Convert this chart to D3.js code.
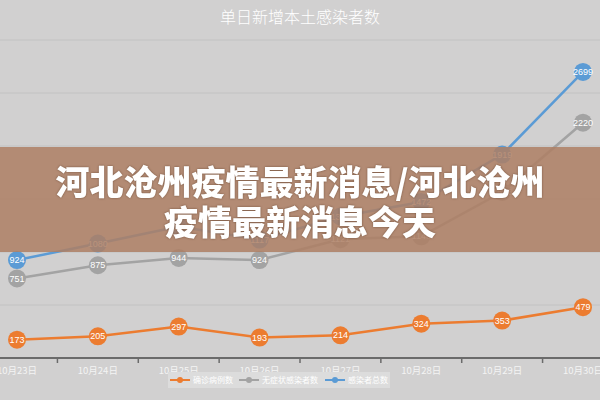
<!DOCTYPE html>
<html>
<head>
<meta charset="utf-8">
<script src="https://cdn.jsdelivr.net/npm/d3@7"></script>
<style>
  html, body { margin: 0; padding: 0; background: #d1d0d0; }
  svg { display: block; }
</style>
</head>
<body>
<div id="chart"></div>
<script>
// chart values
var dates = ["10月23日", "10月24日", "10月25日", "10月26日", "10月27日", "10月28日", "10月29日", "10月30日"];
var confirmed = [173, 205, 297, 193, 214, 324, 353, 479];
var asymptomatic = [751, 875, 944, 924, 1121, 1148, 1566, 2220];
var total = [924, 1080, 1241, 1117, 1335, 1472, 1919, 2699];
var seriesNames = ["确诊病例数", "无症状感染者数", "感染者总数"];
var seriesColors = ["#ec7c30", "#a3a3a3", "#5b9bd5"];
var yTicks = [0, 500, 1000, 1500, 2000, 2500, 3000];

function init() {
    var w = 600;
    var h = 400;
    var svg = d3.select("#chart").append("svg")
                .attr("width", w)
                .attr("height", h);

    svg.append("rect")
        .attr("width", w).attr("height", h)
        .attr("fill", "#d1d0d0");

    var xScale = d3.scalePoint()
        .domain(dates)
        .range([17, 583]);

    var yScale = d3.scaleLinear()
        .domain([0, 3000])
        .range([358, 40]);

    // title
    svg.append("text")
        .attr("x", w / 2)
        .attr("y", 23)
        .attr("text-anchor", "middle")
        .style("font-family", "'Noto Sans CJK SC', sans-serif")
        .style("font-size", "16px")
        .style("font-weight", 300)
        .attr("fill", "#ffffff")
        .text("单日新增本土感染者数");

    // grid lines
    svg.append("g")
        .selectAll("line")
        .data(yTicks.filter(d => d > 0))
        .enter()
        .append("line")
        .attr("x1", 0).attr("x2", w)
        .attr("y1", d => yScale(d)).attr("y2", d => yScale(d))
        .attr("stroke", "#c2c2c2")
        .attr("stroke-width", 1);

    // x axis
    var step = xScale.step();
    var xAxis = svg.append("g")
        .attr("transform", "translate(0,358)");
    xAxis.append("line")
        .attr("x1", 0).attr("x2", w)
        .attr("stroke", "#6b6b6b")
        .attr("stroke-width", 2);
    xAxis.selectAll(".tick")
        .data(dates.slice(0, -1))
        .enter()
        .append("line")
        .attr("x1", d => xScale(d) + step / 2)
        .attr("x2", d => xScale(d) + step / 2)
        .attr("y1", 0).attr("y2", 5)
        .attr("stroke", "#6b6b6b")
        .attr("stroke-width", 1.5);
    xAxis.selectAll(".lbl")
        .data(dates)
        .enter()
        .append("text")
        .attr("x", d => xScale(d))
        .attr("y", 16)
        .attr("text-anchor", "middle")
        .style("font-family", "'Noto Sans CJK SC', sans-serif")
        .style("font-size", "9.5px")
        .attr("fill", "#f4f4f4")
        .text(d => d);

    // series
    var allSeries = [confirmed, asymptomatic, total];
    var line = d3.line()
        .x((d, i) => xScale(dates[i]))
        .y(d => yScale(d));

    allSeries.forEach(function(values, s) {
        var g = svg.append("g");
        g.append("path")
            .datum(values)
            .attr("d", line)
            .attr("fill", "none")
            .attr("stroke", seriesColors[s])
            .attr("stroke-width", 2.5);
        var pts = g.selectAll("g")
            .data(values)
            .enter()
            .append("g")
            .attr("transform", (d, i) => `translate(${xScale(dates[i])},${yScale(d)})`);
        pts.append("circle")
            .attr("r", 9)
            .attr("fill", seriesColors[s]);
        pts.append("text")
            .attr("text-anchor", "middle")
            .attr("dy", "0.35em")
            .style("font-family", "'Liberation Sans', Arial, sans-serif")
            .style("font-size", "9px")
            .attr("fill", "#ffffff")
            .text(d => d);
    });

    // legend
    var legend = svg.append("g");
    legend.append("rect")
        .attr("x", 168).attr("y", 372)
        .attr("width", 222).attr("height", 16)
        .attr("fill", "#dcdcdc");
    var legendX = [168, 237, 323];
    seriesNames.forEach(function(name, s) {
        var lg = legend.append("g")
            .attr("transform", `translate(${legendX[s]},380)`);
        lg.append("line")
            .attr("x1", 2).attr("x2", 22)
            .attr("stroke", seriesColors[s])
            .attr("stroke-width", 2);
        lg.append("circle")
            .attr("cx", 12).attr("r", 3)
            .attr("fill", seriesColors[s]);
        lg.append("text")
            .attr("x", 25)
            .attr("dy", "0.35em")
            .style("font-family", "'Noto Sans CJK SC', sans-serif")
            .style("font-size", "8px")
            .attr("fill", "#ffffff")
            .text(name);
    });

    // overlay banner
    svg.append("rect")
        .attr("x", 0).attr("y", 147)
        .attr("width", w).attr("height", 105)
        .attr("fill", "rgb(174,127,100)")
        .attr("fill-opacity", 0.86);

    var bannerLines = ["河北沧州疫情最新消息/河北沧州", "疫情最新消息今天"];
    svg.append("g")
        .selectAll("text")
        .data(bannerLines)
        .enter()
        .append("text")
        .attr("x", w / 2)
        .attr("y", (d, i) => 195 + i * 40)
        .attr("text-anchor", "middle")
        .style("font-family", "'Noto Sans CJK SC', sans-serif")
        .style("font-size", "34px")
        .style("font-weight", 900)
        .style("filter", "drop-shadow(0 0 1px rgba(80,50,30,0.6))")
        .attr("fill", "#ffffff")
        .text(d => d);
}

window.onload = init;
</script>
</body>
</html>
